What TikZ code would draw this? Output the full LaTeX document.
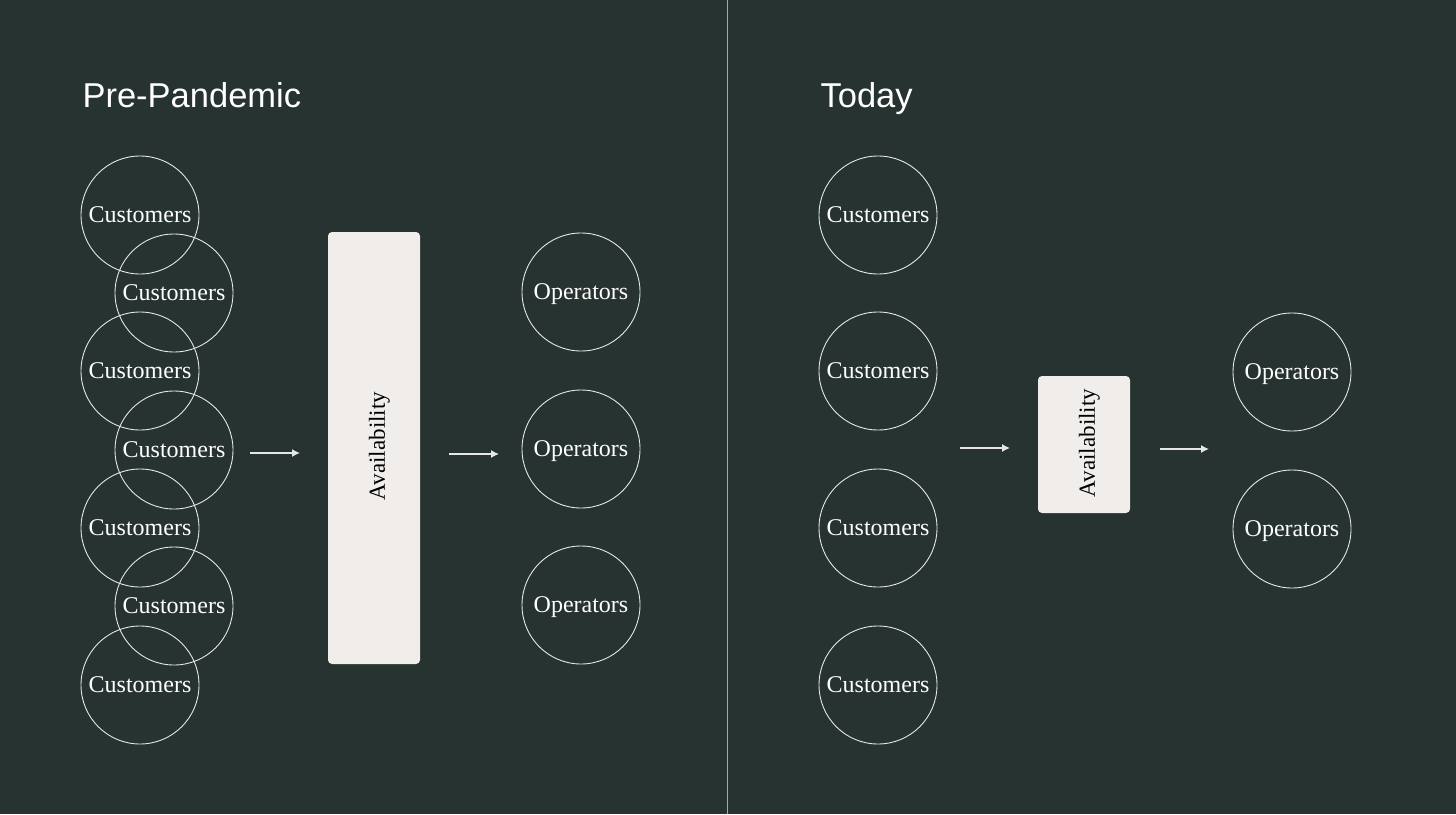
\documentclass[tikz,border=0pt]{standalone}
\usepackage{fontspec}
\setmainfont{Liberation Serif}
\newfontfamily\titlefont{Liberation Sans}
\usetikzlibrary{arrows.meta}
\definecolor{bg}{RGB}{38,51,48}
\definecolor{boxfill}{RGB}{240,237,235}
\definecolor{linecol}{RGB}{228,231,229}
\definecolor{divcol}{RGB}{160,170,168}
\tikzset{
  circ/.style={circle, draw=linecol, line width=0.9pt, minimum size=118pt, inner sep=0pt, text=white, text depth=0pt, font=\fontsize{24}{26}\selectfont},
  availbox/.style={draw=none, fill=boxfill, rounded corners=4pt, inner sep=0pt},
  availtext/.style={rotate=90, text=black, text depth=0pt, font=\fontsize{23}{25}\selectfont},
  flow/.style={draw=linecol, line width=1.3pt, -{Latex[length=8pt,width=8pt]}},
  title/.style={anchor=base west, text=white, font=\titlefont\fontsize{34.5}{40}\selectfont},
}
\begin{document}
\begin{tikzpicture}[x=1pt,y=-1pt]
\fill[bg] (0,0) rectangle (1456,814);
\useasboundingbox (0,0) rectangle (1456,814);
\coordinate (dtop) at (727,0);
\coordinate (dbot) at (727,814);
\draw[divcol, line width=0.9pt] (dtop) -- (dbot);
% titles
\node[title] (t1) at (79,107) {Pre-Pandemic};
\node[title] (t2) at (817,107) {Today};
% left customers
\node[circ] (lc1) at (140,215) {Customers};
\node[circ] (lc2) at (174,293) {Customers};
\node[circ] (lc3) at (140,371) {Customers};
\node[circ] (lc4) at (174,450) {Customers};
\node[circ] (lc5) at (140,528) {Customers};
\node[circ] (lc6) at (174,606) {Customers};
\node[circ] (lc7) at (140,685) {Customers};
% left box
\node[availbox, minimum width=92pt, minimum height=432pt] (lb) at (374,448) {};
\node[availtext] (lbt) at (377,446) {Availability};
% left operators
\node[circ] (lo1) at (581,292) {Operators};
\node[circ] (lo2) at (581,449) {Operators};
\node[circ] (lo3) at (581,605) {Operators};
% left arrows
\coordinate (la1s) at (250,453);
\coordinate (la1e) at (300,453);
\coordinate (la2s) at (449,454);
\coordinate (la2e) at (499,454);
\draw[flow] (la1s) -- (la1e);
\draw[flow] (la2s) -- (la2e);
% right customers
\node[circ] (rc1) at (878,215) {Customers};
\node[circ] (rc2) at (878,371) {Customers};
\node[circ] (rc3) at (878,528) {Customers};
\node[circ] (rc4) at (878,685) {Customers};
% right box
\node[availbox, minimum width=92pt, minimum height=137pt] (rb) at (1084,444.5) {};
\node[availtext] (rbt) at (1087,443) {Availability};
% right operators
\node[circ] (ro1) at (1292,372) {Operators};
\node[circ] (ro2) at (1292,529) {Operators};
% right arrows
\coordinate (ra1s) at (960,448);
\coordinate (ra1e) at (1010,448);
\coordinate (ra2s) at (1160,449);
\coordinate (ra2e) at (1209,449);
\draw[flow] (ra1s) -- (ra1e);
\draw[flow] (ra2s) -- (ra2e);
\end{tikzpicture}
\end{document}
